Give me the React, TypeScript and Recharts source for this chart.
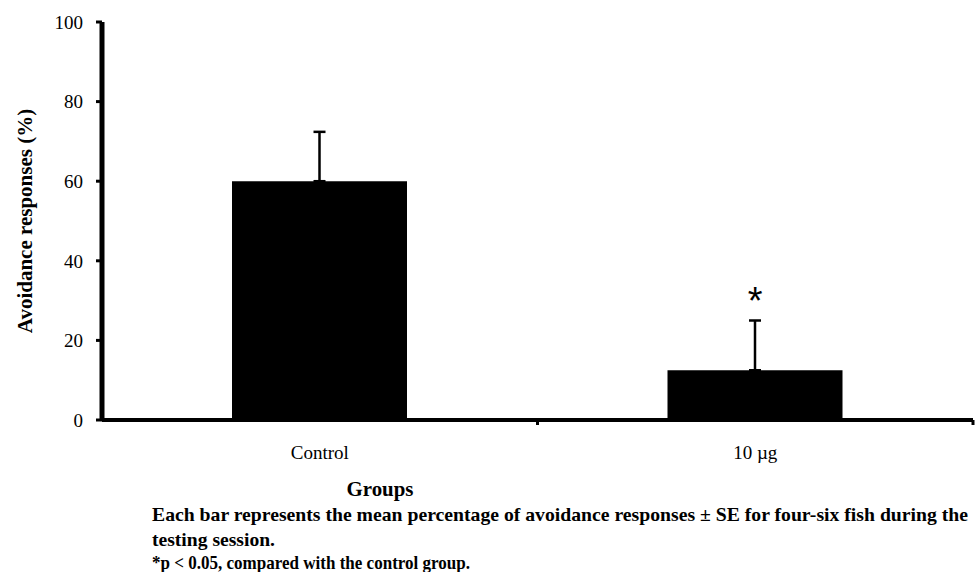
import { BarChart, Bar, XAxis, YAxis, ErrorBar, ReferenceDot } from 'recharts'

const groups = ['Control', '10 µg']
const means = [60, 12.5]
const errors = [12.4, 12.5]
const yTicks = [0, 20, 40, 60, 80, 100]
const starGroup = '10 µg'
const starLevel = 30.9

const captionLines = [
  'Each bar represents the mean percentage of avoidance responses ± SE for four-six fish during the',
  'testing session.',
  '*p < 0.05,  compared with the control group.',
]

const data = groups.map((g, i) => ({ group: g, mean: means[i], err: [0, errors[i]] }))

const SERIF = '"Liberation Serif", "Times New Roman", serif'
const X_TICK_SIZE = 6
const X_TICK_MARGIN = 20

function Star(props: any) {
  const { cx, cy } = props
  return (
    <text x={cx} y={cy} dy={17} textAnchor="middle" fontFamily='"Liberation Sans", Arial, sans-serif' fontSize={38} fill="#000">
      *
    </text>
  )
}

// category label in the middle, small tick mark at the right edge of each band (Excel style)
function GroupTick(props: any) {
  const { x, y, payload } = props
  const axisY = y - X_TICK_SIZE - X_TICK_MARGIN
  const edge = x + (payload.offset || 0)
  return (
    <g>
      <line x1={edge} x2={edge} y1={axisY} y2={axisY + 5} stroke="#000" strokeWidth={3} />
      <text x={x} y={y} dy="0.71em" textAnchor="middle" fill="#000" fontSize={19} fontFamily={SERIF}>
        {payload.value}
      </text>
    </g>
  )
}

export default function App() {
  return (
    <div style={{ position: 'absolute', left: 0, top: 0, width: 975, height: 572, background: '#fff' }}>
      <BarChart
        width={975}
        height={470}
        data={data}
        margin={{ top: 22, right: 2, left: 0, bottom: 20 }}
        barCategoryGap={0}
      >
        <XAxis
          dataKey="group"
          axisLine={{ stroke: '#000', strokeWidth: 4 }}
          tickLine={false}
          tickSize={X_TICK_SIZE}
          tickMargin={X_TICK_MARGIN}
          height={30}
          tick={<GroupTick />}
        />
        <YAxis
          domain={[0, 100]}
          ticks={yTicks}
          width={102}
          axisLine={{ stroke: '#000', strokeWidth: 5 }}
          tickLine={{ stroke: '#000', strokeWidth: 3 }}
          tickSize={6}
          tickMargin={13}
          tick={{ fill: '#000', fontSize: 19, fontFamily: SERIF }}
          label={{
            value: 'Avoidance responses (%)',
            angle: -90,
            position: 'insideLeft',
            offset: 25,
            style: { textAnchor: 'middle', fontFamily: SERIF, fontWeight: 'bold', fontSize: 21, fill: '#000' },
          }}
        />
        <Bar dataKey="mean" fill="#000" barSize={175} isAnimationActive={false}>
          <ErrorBar dataKey="err" width={6} stroke="#000" strokeWidth={2.5} direction="y" />
        </Bar>
        <ReferenceDot x={starGroup} y={starLevel} r={0} shape={<Star />} />
      </BarChart>
      <svg width={975} height={102} style={{ position: 'absolute', left: 0, top: 470 }}>
        <g fontFamily={SERIF} fontWeight="bold" fontSize={19} fill="#000">
          <text x={380} y={26} textAnchor="middle" fontSize={20} textLength={67} lengthAdjust="spacingAndGlyphs">
            Groups
          </text>
          <text x={152} y={51} textLength={816} lengthAdjust="spacingAndGlyphs">
            {captionLines[0]}
          </text>
          <text x={152} y={76} textLength={123} lengthAdjust="spacingAndGlyphs">
            {captionLines[1]}
          </text>
          <text x={152} y={99} textLength={318} lengthAdjust="spacingAndGlyphs">
            {captionLines[2]}
          </text>
        </g>
      </svg>
    </div>
  )
}
